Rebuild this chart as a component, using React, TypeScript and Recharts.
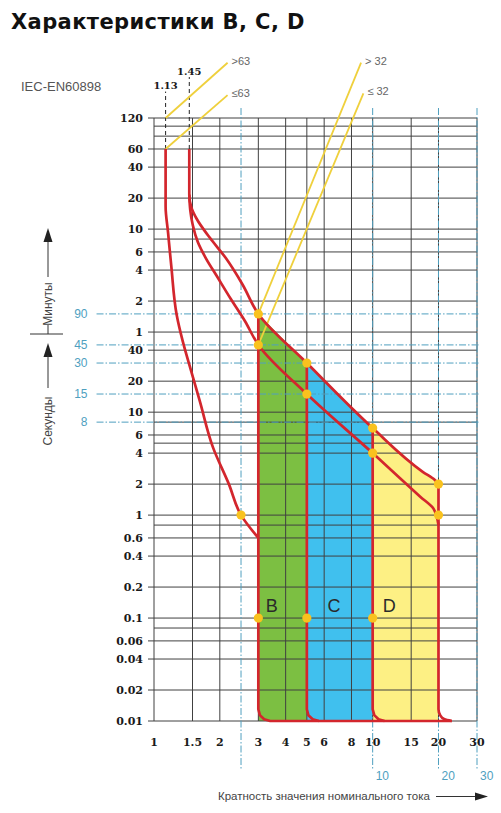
import React from "react";
import {
  ComposedChart,
  XAxis,
  YAxis,
  Line,
  Area,
  Scatter,
  ReferenceLine,
  ReferenceDot,
} from "recharts";

// x: multiple of rated current, y: tripping time in seconds (both log)
const currentTicks = [1, 1.5, 2, 3, 4, 5, 6, 8, 10, 15, 20, 30];
const timeTicks = [
  0.01, 0.02, 0.04, 0.06, 0.1, 0.2, 0.4, 0.6, 1, 2, 4, 6, 10, 20, 40,
  60, 120, 240, 360, 600, 1200, 2400, 3600, 7200,
];
const extraTimeGrid = [0.08, 0.8, 5, 8, 480, 4800, 6000];

// blue dash-dot marks
const markTimes = [90, 45, 30, 15, 8];
const markCurrents = [2.5, 10, 20, 30];
const markCurrentLabels = ["", "10", "20", "30"];

// conventional currents 1.13 / 1.45
const limitCurrents = [1.13, 1.45];
const limitTops = [13000, 18000];

// red curves
const thermalLow = [
  { x: 1.13, y: 3600 }, { x: 1.13, y: 1000 }, { x: 1.16, y: 550 },
  { x: 1.2, y: 260 }, { x: 1.27, y: 88 }, { x: 1.353, y: 49 },
  { x: 1.457, y: 28 }, { x: 1.62, y: 12.8 }, { x: 1.857, y: 4.6 },
  { x: 2.2, y: 2 }, { x: 2.5, y: 1 }, { x: 3, y: 0.6 },
];
const upperCurve = [
  { x: 1.45, y: 3600 }, { x: 1.45, y: 1300 }, { x: 1.48, y: 983 },
  { x: 1.569, y: 752 }, { x: 1.79, y: 502 }, { x: 2.13, y: 314 },
  { x: 2.54, y: 174 }, { x: 3, y: 90 }, { x: 5, y: 30 }, { x: 10, y: 7 },
  { x: 17, y: 2.62 }, { x: 19.2, y: 2.2 }, { x: 20, y: 2 },
  { x: 20, y: 0.013 }, { x: 20.35, y: 0.0114 }, { x: 21.3, y: 0.0104 },
  { x: 23, y: 0.01 },
];
const lowerCurve = [
  { x: 1.45, y: 1300 }, { x: 1.465, y: 919 }, { x: 1.504, y: 658 },
  { x: 1.586, y: 450 }, { x: 1.725, y: 314 }, { x: 1.937, y: 210 },
  { x: 2.246, y: 125.6 }, { x: 2.604, y: 76.8 }, { x: 3, y: 45 },
  { x: 5, y: 15 }, { x: 10, y: 4 }, { x: 16.5, y: 1.51 },
  { x: 19, y: 1.15 }, { x: 20, y: 0.8 },
];
const edgeB = [
  { x: 3, y: 90 }, { x: 3, y: 0.013 }, { x: 3.05, y: 0.0114 },
  { x: 3.19, y: 0.0104 }, { x: 3.4, y: 0.01 }, { x: 23, y: 0.01 },
];
const edgeC = [
  { x: 5, y: 30 }, { x: 5, y: 0.013 }, { x: 5.08, y: 0.0114 },
  { x: 5.32, y: 0.0104 }, { x: 5.67, y: 0.01 },
];
const edgeD = [
  { x: 10, y: 7 }, { x: 10, y: 0.013 }, { x: 10.17, y: 0.0114 },
  { x: 10.63, y: 0.0104 }, { x: 11.33, y: 0.01 },
];

const tripDots = [
  { x: 2.5, y: 1 }, { x: 3, y: 90 }, { x: 3, y: 45 }, { x: 5, y: 30 },
  { x: 5, y: 15 }, { x: 10, y: 7 }, { x: 10, y: 4 }, { x: 20, y: 2 },
  { x: 20, y: 1 }, { x: 3, y: 0.1 }, { x: 5, y: 0.1 }, { x: 10, y: 0.1 },
];

const zoneNames = ["B", "C", "D"];
const zoneBounds = [[3, 5], [5, 10], [10, 20]];
const zoneLetterX = [3.46, 6.66, 11.9];
const zoneColors = ["#7cbf42", "#40c0ee", "#fdf084"];

// yellow leaders to rated-current notes
const leaders = [
  { from: { x: 1.13, y: 7200 }, to: { x: 2.17, y: 24800 }, text: ">63" },
  { from: { x: 1.13, y: 3600 }, to: { x: 2.17, y: 12000 }, text: "≤63" },
  { from: { x: 3, y: 90 }, to: { x: 8.85, y: 24800 }, text: "> 32" },
  { from: { x: 3, y: 45 }, to: { x: 9.07, y: 12500 }, text: "≤ 32" },
];

const RED = "#d3262d";
const TEAL = "#4f9fbf";
const GRID = "#404040";
const DOT = "#f9c21e";
const LEADER = "#efd03c";
const SANS = "'Liberation Sans', Arial, sans-serif";
const SERIF = "'DejaVu Serif', serif";
const DASHDOT = "7 2 1.5 2";

const timeLabel = (s: number) => (s >= 60 ? String(s / 60) : String(s));

const zone = (a: number, b: number) =>
  upperCurve.filter((p) => p.x >= a && p.x <= b && p.y > 0.1);

type NoteOpts = {
  anchor?: "start" | "middle" | "end";
  dx?: number;
  dy?: number;
  size?: number;
  fill?: string;
  family?: string;
  weight?: number;
};

const note = (key: string, x: number, y: number, text: string, o: NoteOpts = {}) => (
  <ReferenceDot
    key={key}
    x={x}
    y={y}
    r={0}
    ifOverflow="visible"
    shape={(p: any) => (
      <text
        x={p.cx + (o.dx ?? 0)}
        y={p.cy + (o.dy ?? 0)}
        textAnchor={o.anchor ?? "start"}
        dominantBaseline="central"
        fontSize={o.size ?? 11}
        fill={o.fill ?? "#555"}
        fontFamily={o.family ?? SANS}
        fontWeight={o.weight ?? 400}
      >
        {text}
      </text>
    )}
  />
);

const curve = (key: string, data: { x: number; y: number }[], smooth = false) => (
  <Line
    key={key}
    data={data}
    dataKey="y"
    type={smooth ? "monotoneY" : "linear"}
    stroke={RED}
    strokeWidth={2.7}
    strokeLinejoin="round"
    dot={false}
    activeDot={false}
    isAnimationActive={false}
  />
);

export default function App() {
  return (
    <div
      style={{
        position: "absolute",
        left: 0,
        top: 0,
        width: 501,
        height: 813,
        background: "#fff",
        overflow: "hidden",
      }}
    >
      <ComposedChart
        width={501}
        height={813}
        margin={{ top: 118, right: 24, bottom: 62, left: 94 }}
      >
        <XAxis
          dataKey="x"
          type="number"
          scale="log"
          domain={[1, 30]}
          ticks={currentTicks}
          interval={0}
          height={30}
          axisLine={false}
          tickLine={false}
          tickSize={0}
          tickMargin={17}
          tick={{ fontFamily: SERIF, fontWeight: 700, fontSize: 11, fill: "#1a1a1a" }}
        />
        <YAxis
          dataKey="y"
          type="number"
          scale="log"
          domain={[0.01, 7200]}
          ticks={timeTicks}
          interval={0}
          tickFormatter={timeLabel}
          width={60}
          axisLine={false}
          tickLine={{ stroke: GRID }}
          tickSize={6}
          tickMargin={5}
          tick={{ fontFamily: SERIF, fontWeight: 700, fontSize: 11, fill: "#1a1a1a" }}
        />

        {zoneBounds.map(([a, b], i) => (
          <Area
            key={"zone" + i}
            data={zone(a, b)}
            dataKey="y"
            type="linear"
            baseValue={0.01}
            stroke="none"
            fill={zoneColors[i]}
            fillOpacity={1}
            isAnimationActive={false}
          />
        ))}

        {[...timeTicks, ...extraTimeGrid].map((t) => (
          <ReferenceLine key={"h" + t} y={t} stroke={GRID} strokeWidth={1} />
        ))}
        {currentTicks.map((c) => (
          <ReferenceLine key={"v" + c} x={c} stroke={GRID} strokeWidth={1} />
        ))}

        {markTimes.map((t) => (
          <ReferenceLine
            key={"mt" + t}
            segment={[{ x: 0.546, y: t }, { x: 30.5, y: t }]}
            stroke={TEAL}
            strokeWidth={1}
            strokeDasharray={DASHDOT}
            ifOverflow="visible"
          />
        ))}
        {markCurrents.map((c) => (
          <ReferenceLine
            key={"mc" + c}
            segment={[{ x: c, y: 9000 }, { x: c, y: 0.0034 }]}
            stroke={TEAL}
            strokeWidth={1}
            strokeDasharray={DASHDOT}
            ifOverflow="visible"
          />
        ))}

        {limitCurrents.map((c, i) => (
          <ReferenceLine
            key={"lim" + c}
            segment={[{ x: c, y: 3600 }, { x: c, y: limitTops[i] }]}
            stroke="#222"
            strokeWidth={1}
            strokeDasharray="4 3"
            ifOverflow="visible"
          />
        ))}

        {leaders.map((l, i) => (
          <ReferenceLine
            key={"ld" + i}
            segment={[l.from, l.to]}
            stroke={LEADER}
            strokeWidth={1.8}
            ifOverflow="visible"
          />
        ))}

        {curve("thermalLow", thermalLow, true)}
        {curve("upper", upperCurve, true)}
        {curve("lower", lowerCurve, true)}
        {curve("edgeB", edgeB)}
        {curve("edgeC", edgeC)}
        {curve("edgeD", edgeD)}

        <Scatter
          data={tripDots}
          isAnimationActive={false}
          shape={(p: any) => <circle cx={p.cx} cy={p.cy} r={4.6} fill={DOT} />}
        />

        {zoneNames.map((n, i) =>
          note("zn" + n, zoneLetterX[i], 0.13, n, { anchor: "middle", size: 18, fill: "#2a2a2a" })
        )}
        {limitCurrents.map((c, i) =>
          note("ll" + c, c, limitTops[i], String(c), {
            anchor: "middle",
            dy: -6,
            size: 10,
            fill: "#1a1a1a",
            family: SERIF,
            weight: 700,
          })
        )}
        {leaders.map((l, i) => note("lt" + i, l.to.x, l.to.y, l.text, { dx: 4, dy: -2, size: 11, fill: "#666" }))}
        {markTimes.map((t) => note("mtl" + t, 0.546, t, String(t), { anchor: "end", dx: -9, size: 12, fill: TEAL }))}
        {markCurrents.map((c, i) =>
          note("mcl" + c, c, 0.0029, markCurrentLabels[i], { dx: 3, size: 12, fill: TEAL })
        )}
      </ComposedChart>

      <svg
        width={501}
        height={813}
        style={{ position: "absolute", left: 0, top: 0, pointerEvents: "none" }}
      >
        <text
          x={11}
          y={28.5}
          fontFamily="'DejaVu Sans', sans-serif"
          fontWeight={700}
          fontSize={21}
          letterSpacing={0.4}
          fill="#111"
        >
          Характеристики B, C, D
        </text>
        <text x={21} y={91} fontFamily={SANS} fontSize={13} fill="#555">
          IEC-EN60898
        </text>

        <line x1={48} y1={277} x2={48} y2={240} stroke="#333" strokeWidth={1} />
        <polygon points="43.5,242 52.5,242 48,228" fill="#222" />
        <text
          transform="translate(52,304) rotate(-90)"
          textAnchor="middle"
          fontFamily={SANS}
          fontSize={12}
          fill="#444"
        >
          Минуты
        </text>
        <line x1={48} y1={325} x2={48} y2={334} stroke="#333" strokeWidth={1} />
        <line x1={30} y1={334} x2={63} y2={334} stroke="#333" strokeWidth={1} />
        <polygon points="43.5,357 52.5,357 48,343" fill="#222" />
        <line x1={48} y1={355} x2={48} y2={388} stroke="#333" strokeWidth={1} />
        <text
          transform="translate(52,421) rotate(-90)"
          textAnchor="middle"
          fontFamily={SANS}
          fontSize={12}
          fill="#444"
        >
          Секунды
        </text>

        <text x={218} y={800} fontFamily={SANS} fontSize={11.5} fill="#444">
          Кратность значения номинального тока
        </text>
        <line x1={436} y1={796.5} x2={477} y2={796.5} stroke="#333" strokeWidth={1} />
        <polygon points="475,792.5 475,800.5 488,796.5" fill="#222" />
      </svg>
    </div>
  );
}
